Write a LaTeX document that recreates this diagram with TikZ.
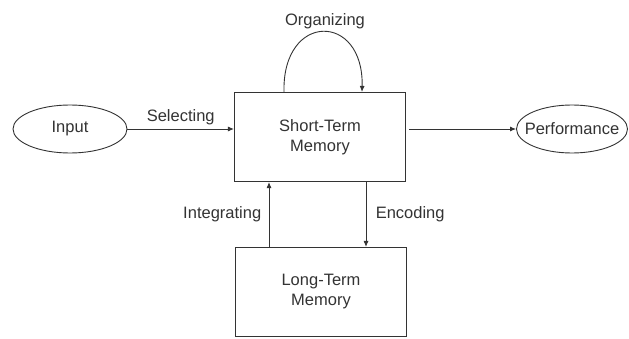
\documentclass[tikz,border=0pt]{standalone}
\usepackage{fontspec}
\setmainfont{Liberation Sans}
\usetikzlibrary{arrows.meta,shapes.geometric}
\definecolor{inkgray}{HTML}{333333}
\begin{document}
\begin{tikzpicture}[
    x=1pt, y=1pt,
    font=\fontsize{16.5}{20}\selectfont,
    text=inkgray,
    memorybox/.style={draw=inkgray, line width=1.1pt, minimum width=171pt, minimum height=89pt, align=center},
    endpoint/.style={draw=inkgray, line width=0.9pt, ellipse, minimum width=114pt, minimum height=48pt, inner sep=0pt},
    flow/.style={draw=inkgray, line width=0.9pt, -{Latex[length=6pt,width=5pt]}}
]
                \useasboundingbox (0,0) rectangle (629,338);

                \node[
                    memorybox,
                    name=stm
                ] at (320,201) {Short-Term\\Memory};
                \node[
                    memorybox,
                    name=ltm
                ] at (321,46) {Long-Term\\Memory};

                \node[
                    endpoint,
                    name=input
                ] at (70,209) {Input};
                \node[
                    endpoint,
                    minimum width=111pt,
                    inner xsep=-8pt,
                    name=perf
                ] at (572,209) {Performance};

                \draw[flow] (input.east) -- node[above=0pt] {Selecting} (input.east -| stm.west);
                \draw[flow] (perf.west -| stm.east) ++(3,0) -- (perf.west);

                \draw[flow] ([xshift=-36pt]stm.north) .. controls +(-2,80) and +(2,80) .. ([xshift=42pt]stm.north);
                \node[name=org] at (325,317) {Organizing};

                \draw[flow] ([xshift=-52pt]ltm.north) -- node[left=4pt] {Integrating} ([xshift=-51pt]stm.south);
                \draw[flow] ([xshift=46pt]stm.south) -- node[right=6pt] {Encoding} ([xshift=45pt]ltm.north);
            \end{tikzpicture}
\end{document}
